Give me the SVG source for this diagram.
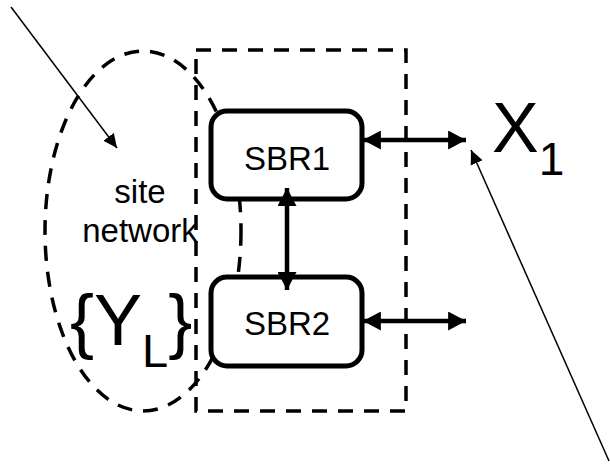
<svg xmlns="http://www.w3.org/2000/svg" width="610" height="471" viewBox="0 0 610 471">
  <defs>
    <marker id="thick-head" markerUnits="userSpaceOnUse" markerWidth="18" markerHeight="19" viewBox="0 0 16 17" refX="16" refY="8.5" orient="auto-start-reverse">
      <path d="M0,0 L16,8.5 L0,17 Z" fill="#000"/>
    </marker>
    <marker id="thin-head" markerUnits="userSpaceOnUse" markerWidth="14" markerHeight="14" viewBox="0 0 14 13" refX="14" refY="6.5" orient="auto">
      <path d="M0,0 L14,6.5 L0,13 Z" fill="#000"/>
    </marker>
  </defs>
  <style>
    .dash { fill: none; stroke: #000; stroke-width: 3.5; stroke-dasharray: 15 11; }
    .box { fill: #fff; stroke: #000; stroke-width: 5; }
    .label { font-family: "Liberation Sans", Arial, sans-serif; fill: #000; }
    .thick { stroke: #000; stroke-width: 4.5; fill: none; }
    .thin { stroke: #000; stroke-width: 1.5; fill: none; }
  </style>

  <!-- site network region -->
  <g id="site-network">
    <ellipse class="dash" cx="143" cy="231" rx="98" ry="180"/>
    <text class="label" x="140" y="203" font-size="33" text-anchor="middle">site</text>
    <text class="label" x="140" y="242" font-size="33" text-anchor="middle">network</text>
    <text class="label" x="70" y="345" font-size="72">{Y<tspan font-size="47" dy="22">L</tspan><tspan dy="-22">}</tspan></text>
  </g>

  <!-- border region enclosing both routers -->
  <g id="border">
    <rect class="dash" x="196" y="50" width="210" height="361"/>
  </g>

  <g id="sbr1">
    <rect class="box" x="211" y="111" width="151" height="88" rx="16"/>
    <text class="label" x="287" y="170" font-size="33" text-anchor="middle">SBR1</text>
  </g>

  <g id="sbr2">
    <rect class="box" x="211" y="277" width="151" height="89" rx="16"/>
    <text class="label" x="287" y="335" font-size="33" text-anchor="middle">SBR2</text>
  </g>

  <g id="x1">
    <text class="label" x="492" y="152" font-size="70">X<tspan font-size="46" dy="23">1</tspan></text>
  </g>

  <g id="connectors">
    <line class="thick" x1="287" y1="188" x2="287" y2="290" marker-start="url(#thick-head)" marker-end="url(#thick-head)"/>
    <line class="thick" x1="363" y1="140" x2="466" y2="140" marker-start="url(#thick-head)" marker-end="url(#thick-head)"/>
    <line class="thick" x1="363" y1="321" x2="466" y2="321" marker-start="url(#thick-head)" marker-end="url(#thick-head)"/>
    <line class="thin" x1="11" y1="7" x2="117" y2="148" marker-end="url(#thin-head)"/>
    <line class="thin" x1="609" y1="461" x2="471" y2="150" marker-end="url(#thin-head)"/>
  </g>
</svg>
